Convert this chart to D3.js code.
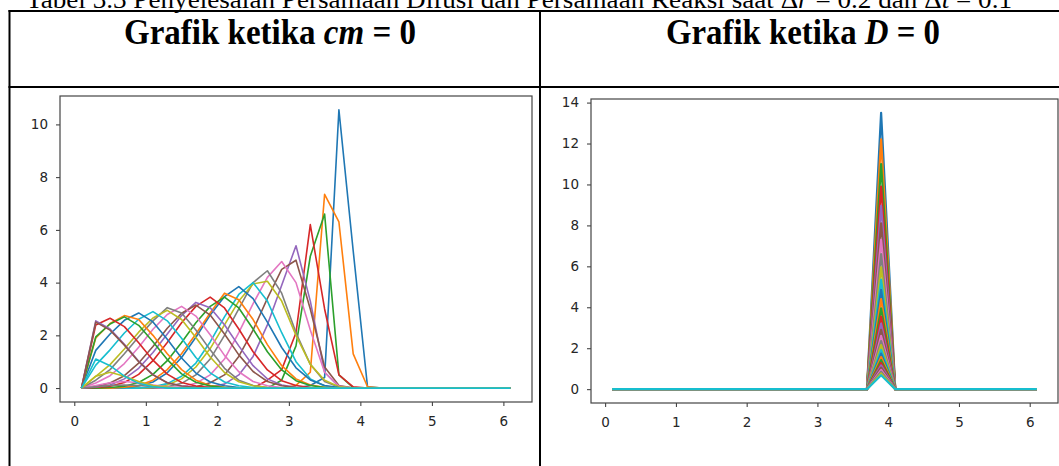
<!DOCTYPE html>
<html>
<head>
<meta charset="utf-8">
<script src="https://cdn.jsdelivr.net/npm/d3@7"></script>
<style>
  html, body { margin: 0; padding: 0; background: #fff; }
  svg { display: block; }
</style>
</head>
<body>
<div id="chart"></div>
<script>
// grid points r = 0.1 .. 6.1 (dr = 0.2)
const xs = [0.1, 0.3, 0.5, 0.7, 0.9, 1.1, 1.3, 1.5, 1.7, 1.9, 2.1, 2.3, 2.5, 2.7, 2.9, 3.1,
            3.3, 3.5, 3.7, 3.9, 4.1, 4.3, 4.5, 4.7, 4.9, 5.1, 5.3, 5.5, 5.7, 5.9, 6.1];

// right of r = 4.1 every curve of the cm = 0 plot is flat at zero
const tailZeros = [0, 0, 0, 0, 0, 0, 0, 0, 0, 0];

// cm = 0 : values at r = 0.1 .. 4.1, one row per plotted time step
const cmCurves = [
  [0,0,0,0,0,0,0,0,0,0,0,0,0,0,0,0,0.1,0.4,10.55,5.2,0.05],
  [0,0,0,0,0,0,0,0,0,0,0,0,0,0,0,0.1,0.6,7.35,6.3,1.3,0.05],
  [0,0,0,0,0,0,0,0,0,0,0,0,0,0,0.3,1.6,5.0,6.6,0.5,0.02,0],
  [0,0,0,0,0,0,0,0,0,0,0,0,0,0.3,0.7,2.1,6.2,3.0,0.5,0.05,0],
  [0,0,0,0,0,0,0,0,0,0.05,0.15,0.5,1.2,2.4,3.9,5.4,3.3,0.6,0.05,0,0],
  [0,0,0,0,0,0,0,0,0.05,0.2,0.5,1.2,2.2,3.4,4.5,4.85,3.0,0.8,0.1,0,0],
  [0,0,0,0,0,0,0,0.05,0.18,0.5,1.1,2.1,3.2,4.2,4.8,4.0,2.2,0.6,0.08,0,0],
  [0,0,0,0,0,0,0.05,0.18,0.5,1.1,2.0,3.0,4.0,4.45,3.6,2.1,0.9,0.25,0.04,0,0],
  [0,0,0,0,0,0.03,0.12,0.35,0.8,1.5,2.4,3.3,3.95,4.05,3.3,2.0,0.9,0.3,0.05,0,0],
  [0,0,0,0,0,0.05,0.17,0.45,0.95,1.75,2.7,3.55,4.0,3.3,2.1,1.0,0.35,0.08,0,0,0],
  [0,0,0,0.02,0.08,0.23,0.58,1.16,1.93,2.77,3.47,3.85,3.39,2.5,1.54,0.77,0.31,0.1,0.02,0,0],
  [0,0,0,0.03,0.1,0.3,0.7,1.3,2.05,2.85,3.6,3.35,2.6,1.65,0.85,0.35,0.12,0.03,0,0,0],
  [0,0,0.02,0.07,0.21,0.52,1.04,1.73,2.48,3.1,3.45,3.04,2.24,1.38,0.69,0.28,0.1,0.02,0,0,0],
  [0,0.02,0.07,0.21,0.52,1.04,1.73,2.48,3.1,3.45,3.04,2.24,1.38,0.69,0.28,0.1,0.02,0,0,0,0],
  [0,0.04,0.12,0.35,0.75,1.35,2.05,2.75,3.25,3.05,2.4,1.6,0.85,0.35,0.12,0.03,0,0,0,0,0],
  [0,0.06,0.19,0.47,0.95,1.58,2.27,2.84,3.15,2.77,2.05,1.26,0.63,0.25,0.09,0.02,0,0,0,0,0],
  [0,0.19,0.47,0.93,1.55,2.23,2.79,3.1,2.73,2.02,1.24,0.62,0.25,0.09,0.02,0,0,0,0,0,0],
  [0,0.3,0.7,1.3,1.95,2.55,3.05,2.85,2.2,1.45,0.75,0.3,0.1,0.02,0,0,0,0,0,0,0],
  [0,0.44,0.89,1.48,2.12,2.66,2.95,2.6,1.92,1.18,0.59,0.24,0.09,0.02,0,0,0,0,0,0,0],
  [0,0.87,1.45,2.09,2.61,2.9,2.55,1.89,1.16,0.58,0.23,0.09,0.02,0,0,0,0,0,0,0,0],
  [0,1.43,2.05,2.57,2.85,2.51,1.85,1.14,0.57,0.23,0.09,0.02,0,0,0,0,0,0,0,0,0],
  [0,1.9,2.45,2.75,2.6,2.0,1.3,0.7,0.3,0.1,0.03,0,0,0,0,0,0,0,0,0,0],
  [0,1.94,2.43,2.7,2.38,1.76,1.08,0.54,0.22,0.08,0.02,0,0,0,0,0,0,0,0,0,0],
  [0,2.39,2.65,2.33,1.72,1.06,0.53,0.21,0.08,0.02,0,0,0,0,0,0,0,0,0,0,0],
  [0,2.55,2.24,1.66,1.02,0.51,0.2,0.08,0.02,0,0,0,0,0,0,0,0,0,0,0,0],
  [0,2.5,2.2,1.63,1.0,0.5,0.2,0.08,0.02,0,0,0,0,0,0,0,0,0,0,0,0],
  [0,0.1,0.2,0.25,0.2,0.12,0.05,0.02,0,0,0,0,0,0,0,0,0,0,0,0,0],
  [0,0.05,0.1,0.12,0.1,0.06,0.02,0,0,0,0,0,0,0,0,0,0,0,0,0,0],
  [0,0.45,0.6,0.45,0.25,0.1,0.03,0,0,0,0,0,0,0,0,0,0,0,0,0,0],
  [0,1.1,0.85,0.45,0.18,0.05,0,0,0,0,0,0,0,0,0,0,0,0,0,0,0]
];

// D = 0 : every curve is zero except at r = 3.9
const dPeakX = 3.9;
const dPeaks = [13.5, 12.2, 11.0, 9.9, 8.95, 8.1, 7.3, 6.6, 5.95, 5.35,
                4.85, 4.4, 3.95, 3.55, 3.2, 2.9, 2.6, 2.35, 2.15, 1.92,
                1.74, 1.57, 1.42, 1.28, 1.16, 1.05, 0.94, 0.85, 0.77, 0.68];

const xTicks = [0, 1, 2, 3, 4, 5, 6];
const cmYTicks = [0, 2, 4, 6, 8, 10];
const dYTicks = [0, 2, 4, 6, 8, 10, 12, 14];

const width = 1059, height = 466;
const colors = d3.schemeCategory10;

const svg = d3.select("#chart")
    .append("svg")
    .attr("width", width)
    .attr("height", height)
    .attr("viewBox", [0, 0, width, height]);

// caption, cut by the top edge like the scan
svg.append("text")
    .attr("x", 26)
    .attr("y", 8)
    .attr("textLength", 986)
    .attr("lengthAdjust", "spacingAndGlyphs")
    .style("font-family", "'Liberation Serif', 'Times New Roman', serif")
    .style("font-size", "26px")
    .call(t => {
        t.append("tspan").text("Tabel 3.3 Penyelesaian Persamaan Difusi dan Persamaan Reaksi saat Δ");
        t.append("tspan").style("font-style", "italic").text("r");
        t.append("tspan").text(" = 0.2 dan Δ");
        t.append("tspan").style("font-style", "italic").text("t");
        t.append("tspan").text(" = 0.1");
    });

// table rules
const table = svg.append("g")
    .attr("stroke", "#000")
    .attr("stroke-width", 2);
table.append("line").attr("x1", 8.5).attr("x2", width).attr("y1", 11).attr("y2", 11);
table.append("line").attr("x1", 9.5).attr("x2", 9.5).attr("y1", 10).attr("y2", height);
table.append("line").attr("x1", 540).attr("x2", 540).attr("y1", 10).attr("y2", height);
table.append("line").attr("x1", 8.5).attr("x2", width).attr("y1", 87).attr("y2", 87);

const headers = [
    { x: 124, len: 292, sym: "cm" },
    { x: 666, len: 274, sym: "D" }
];
headers.forEach(h => {
    svg.append("text")
        .attr("x", h.x)
        .attr("y", 44)
        .attr("textLength", h.len)
        .attr("lengthAdjust", "spacingAndGlyphs")
        .style("font-family", "'Liberation Serif', 'Times New Roman', serif")
        .style("font-weight", "bold")
        .style("font-size", "36px")
        .call(t => {
            t.append("tspan").text("Grafik ketika ");
            t.append("tspan").style("font-style", "italic").text(h.sym);
            t.append("tspan").text(" = 0");
        });
});

const drawPanel = ({ left, right, top, bottom, yMax, yTicks, series, lineWidth, id }) => {
    const xMin = 0.1, xMax = 6.1;
    const xPad = (xMax - xMin) * 0.05, yPad = yMax * 0.05;

    const x = d3.scaleLinear().domain([xMin - xPad, xMax + xPad]).range([left, right]);
    const y = d3.scaleLinear().domain([-yPad, yMax + yPad]).range([bottom, top]);

    const g = svg.append("g");

    g.append("clipPath")
        .attr("id", id)
        .append("rect")
        .attr("x", left).attr("y", top)
        .attr("width", right - left).attr("height", bottom - top);

    const line = d3.line()
        .x(d => x(d[0]))
        .y(d => y(d[1]));

    g.append("g")
        .attr("clip-path", `url(#${id})`)
        .selectAll("path")
        .data(series)
        .join("path")
        .attr("d", line)
        .attr("fill", "none")
        .attr("stroke", (d, i) => colors[i % 10])
        .attr("stroke-width", lineWidth)
        .attr("stroke-linejoin", "round");

    const xAxis = g.append("g")
        .attr("transform", `translate(0,${bottom})`)
        .call(d3.axisBottom(x).tickValues(xTicks).tickFormat(d3.format("d")).tickSize(4).tickPadding(10));

    const yAxis = g.append("g")
        .attr("transform", `translate(${left},0)`)
        .call(d3.axisLeft(y).tickValues(yTicks).tickFormat(d3.format("d")).tickSize(4).tickPadding(8));

    [xAxis, yAxis].forEach(a => {
        a.select(".domain").remove();
        a.selectAll(".tick line").attr("stroke", "#333").attr("stroke-width", 1);
        a.selectAll(".tick text")
            .attr("fill", "#262626")
            .style("font-family", "'DejaVu Sans', sans-serif")
            .style("font-size", "13.5px");
    });

    g.append("rect")
        .attr("x", left).attr("y", top)
        .attr("width", right - left).attr("height", bottom - top)
        .attr("fill", "none")
        .attr("stroke", "#444")
        .attr("stroke-width", 1.2);
};

const cmSeries = cmCurves.map(row => row.concat(tailZeros).map((v, i) => [xs[i], v]));
const cmMax = d3.max(cmCurves, row => d3.max(row));

const dSeries = dPeaks.map(p => xs.map(r => [r, r === dPeakX ? p : 0]));
const dMax = d3.max(dPeaks);

drawPanel({ left: 60, right: 532, top: 96, bottom: 402, yMax: cmMax, yTicks: cmYTicks,
            series: cmSeries, lineWidth: 1.6, id: "clip-cm" });
drawPanel({ left: 591, right: 1058, top: 99, bottom: 403, yMax: dMax, yTicks: dYTicks,
            series: dSeries, lineWidth: 2.2, id: "clip-d" });
</script>
</body>
</html>
